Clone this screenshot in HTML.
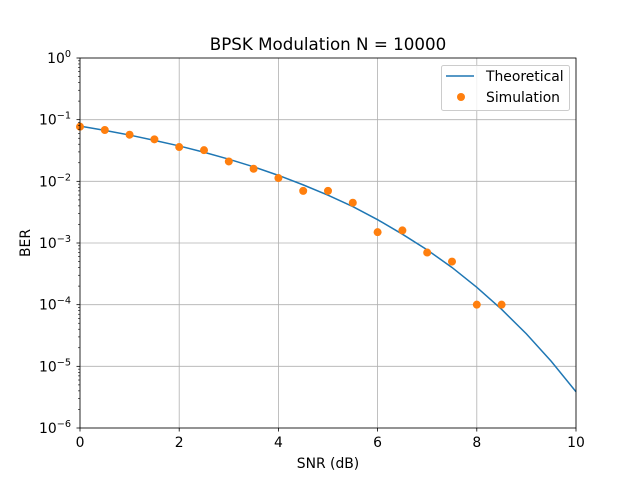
<!DOCTYPE html>
<html><head><meta charset="utf-8"><style>
body{margin:0;background:#fff}
text{font-family:"DejaVu Sans","Liberation Sans",sans-serif;fill:#000}
</style></head><body>
<svg id="c" width="640" height="480" xmlns="http://www.w3.org/2000/svg"></svg>
<script>
const snrTheory=[0,0.5,1,1.5,2,2.5,3,3.5,4,4.5,5,5.5,6,6.5,7,7.5,8,8.5,9,9.5,10];
const berTheory=[7.865e-2,6.715e-2,5.628e-2,4.622e-2,3.751e-2,2.963e-2,2.288e-2,1.721e-2,1.250e-2,8.76e-3,5.95e-3,3.90e-3,2.39e-3,1.39e-3,7.73e-4,4.01e-4,1.91e-4,8.4e-5,3.36e-5,1.21e-5,3.87e-6];
const snrSim=[0,0.5,1,1.5,2,2.5,3,3.5,4,4.5,5,5.5,6,6.5,7,7.5,8,8.5];
const berSim=[0.077,0.068,0.057,0.048,0.036,0.032,0.021,0.016,0.0113,0.0070,0.0070,0.0045,0.0015,0.0016,0.0007,0.0005,0.0001,0.0001];
const xTicks=[0,2,4,6,8,10];
const yExp=[0,-1,-2,-3,-4,-5,-6];
const L=80,R=576,T=58,B=428;
const X=v=>L+(v-0)/(10-0)*(R-L);
const Y=v=>T+(0-Math.log10(v))/6*(B-T);
const svg=document.getElementById('c');
const NS='http://www.w3.org/2000/svg';
function el(t,a,p){const e=document.createElementNS(NS,t);for(const k in a)e.setAttribute(k,a[k]);(p||svg).appendChild(e);return e;}
for(const t of xTicks){const g=el('line',{x1:X(t),x2:X(t),y1:T,y2:B,stroke:'#b0b0b0','stroke-width':0.8});

}
for(const e of yExp){const g=el('line',{x1:L,x2:R,y1:Y(Math.pow(10,e)),y2:Y(Math.pow(10,e)),stroke:'#b0b0b0','stroke-width':0.8});

}
const pl=el('polyline',{points:snrTheory.map((s,i)=>X(s)+','+Y(berTheory[i])).join(' '),fill:'none',stroke:'#1f77b4','stroke-width':1.5});


snrSim.forEach((s,i)=>{const c=el('circle',{cx:X(s),cy:Y(berSim[i]),r:4,fill:'#ff7f0e'});

});
const bx=el('rect',{x:L,y:T,width:R-L,height:B-T,fill:'none',stroke:'#000','stroke-width':0.8});


for(const t of xTicks){el('line',{x1:X(t),x2:X(t),y1:B,y2:B+3.5,stroke:'#000','stroke-width':0.8});
const tx=el('text',{x:X(t),y:B+19,'font-size':13.9,'text-anchor':'middle'});tx.textContent=t;

}
for(const e of yExp){const y=Y(Math.pow(10,e));el('line',{x1:L-3.5,x2:L,y1:y,y2:y,stroke:'#000','stroke-width':0.8});
const tx=el('text',{x:71,y:y+5,'font-size':13.9,'text-anchor':'end'});


const a=el('tspan',{},tx);a.textContent='10';
const b=el('tspan',{'font-size':9.7,dy:-6},tx);b.textContent=e===0?'0':'\u2212'+(-e);
if(e<0){for(let m=2;m<=9;m++){const ym=Y(m*Math.pow(10,e));el('line',{x1:L-2,x2:L,y1:ym,y2:ym,stroke:'#000','stroke-width':0.6});}}}
const title=el('text',{x:328,y:50,'font-size':16.7,'text-anchor':'middle'});title.textContent='BPSK Modulation N = 10000';


const xl=el('text',{x:328,y:468,'font-size':13.9,'text-anchor':'middle'});xl.textContent='SNR (dB)';


const yl=el('text',{x:0,y:0,'font-size':13.9,'text-anchor':'middle',transform:'translate(30,243) rotate(-90)'});yl.textContent='BER';


const lg=el('g',{});


el('rect',{x:441.5,y:65.5,width:128,height:45,rx:2,fill:'#fff','fill-opacity':0.8,stroke:'#ccc'},lg);
el('line',{x1:446,x2:474,y1:76,y2:76,stroke:'#1f77b4','stroke-width':1.5},lg);
const t1=el('text',{x:486,y:81,'font-size':13.9},lg);t1.textContent='Theoretical';


el('circle',{cx:461,cy:97,r:4,fill:'#ff7f0e'},lg);
const t2=el('text',{x:486,y:102,'font-size':13.9},lg);t2.textContent='Simulation';


</script>
</body></html>
